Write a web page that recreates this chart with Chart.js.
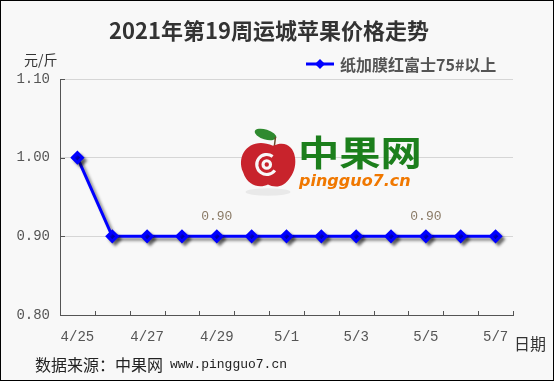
<!DOCTYPE html>
<html>
<head>
<meta charset="utf-8">
<script src="https://cdn.jsdelivr.net/npm/chart.js@4.4.1/dist/chart.umd.min.js"></script>
<style>
  body { margin: 0; }
  #box {
    position: absolute; left: 0; top: 0;
    width: 552px; height: 379px;
    border: 1px solid #000;
    background: #f8f8f8;
  }
  #wrap { position: absolute; left: 0; top: 0; width: 556px; height: 382px; }
</style>
</head>
<body>
<div id="box"></div>
<div id="wrap"><canvas id="chart" width="556" height="382"></canvas></div>
<script>
const dates = ["4/25", "4/26", "4/27", "4/28", "4/29", "4/30", "5/1", "5/2", "5/3", "5/4", "5/5", "5/6", "5/7"];
const prices = [1.00, 0.90, 0.90, 0.90, 0.90, 0.90, 0.90, 0.90, 0.90, 0.90, 0.90, 0.90, 0.90];
const labelledPoints = [4, 10];
const seriesName = "纸加膜红富士75#以上";
const yTicks = [0.80, 0.90, 1.00, 1.10];

const MONO = "'Liberation Mono', 'DejaVu Sans Mono', monospace";
const CJK = "'Noto Sans CJK SC', sans-serif";

// drop shadow under the line and markers
const shadowPlugin = {
  id: "lineShadow",
  beforeDatasetsDraw(chart) {
    const ctx = chart.ctx;
    ctx.save();
    ctx.shadowColor = "rgba(0,0,0,0.45)";
    ctx.shadowBlur = 3;
    ctx.shadowOffsetX = 3;
    ctx.shadowOffsetY = 3;
  },
  afterDatasetsDraw(chart) {
    chart.ctx.restore();
  }
};

function drawApple(ctx, x, y, s) {
  ctx.save();
  ctx.translate(x, y);
  ctx.scale(s, s);
  // soft shadow under the apple
  ctx.fillStyle = "rgba(0,0,0,0.06)";
  ctx.beginPath();
  ctx.ellipse(0, 24, 18, 3, 0, 0, Math.PI * 2);
  ctx.fill();
  // leaf
  ctx.fillStyle = "#2f8a2f";
  ctx.beginPath();
  ctx.ellipse(-2, -22, 9, 4, 0.3, 0, Math.PI * 2);
  ctx.fill();
  ctx.strokeStyle = "#6b4a2a";
  ctx.lineWidth = 1.2;
  ctx.beginPath();
  ctx.moveTo(5, -12);
  ctx.lineTo(6, -20);
  ctx.stroke();
  // body
  ctx.fillStyle = "#c8232c";
  ctx.beginPath();
  ctx.moveTo(4, -13);
  ctx.bezierCurveTo(22, -21, 26, 2, 18, 12);
  ctx.bezierCurveTo(12, 22, 4, 20, 0, 18);
  ctx.bezierCurveTo(-6, 21, -16, 20, -20, 8);
  ctx.bezierCurveTo(-26, -6, -14, -21, 4, -13);
  ctx.fill();
  // swirl
  ctx.strokeStyle = "#f8f8f8";
  ctx.lineWidth = 2.5;
  ctx.beginPath();
  ctx.arc(-1, 2, 8, Math.PI * 0.2, Math.PI * 1.7);
  ctx.stroke();
  ctx.beginPath();
  ctx.arc(-1, 2, 3, 0, Math.PI * 2);
  ctx.stroke();
  ctx.restore();
}

const decorPlugin = {
  id: "decor",
  beforeDatasetsDraw(chart) {
    const ctx = chart.ctx;
    const x = chart.scales.x;
    const y = chart.scales.y;
    const area = chart.chartArea;
    ctx.save();
    // watermark logo
    drawApple(ctx, 268, 162, 1.25);
    ctx.save();
    ctx.fillStyle = "#1c7f1c";
    ctx.font = "bold 35px " + CJK;
    ctx.textBaseline = "middle";
    ctx.textAlign = "left";
    ctx.translate(298, 153);
    ctx.scale(1.18, 1);
    ctx.fillText("中果网", 0, 0);
    ctx.restore();
    ctx.fillStyle = "#f07800";
    ctx.font = "italic bold 16px 'DejaVu Sans', sans-serif";
    ctx.textBaseline = "middle";
    ctx.fillText("pingguo7.cn", 299, 182);

    // inward ticks
    ctx.strokeStyle = "#555";
    ctx.lineWidth = 1;
    ctx.beginPath();
    const step = x.getPixelForValue(1) - x.getPixelForValue(0);
    for (let i = 0; i <= dates.length; i++) {
      const px = Math.round(x.getPixelForValue(0) - step / 2 + i * step) + 0.5;
      ctx.moveTo(px, area.bottom);
      ctx.lineTo(px, area.bottom - 4);
    }
    for (const v of yTicks) {
      const py = Math.round(y.getPixelForValue(v)) + 0.5;
      ctx.moveTo(area.left, py);
      ctx.lineTo(area.left + 5, py);
    }
    ctx.stroke();
    ctx.restore();
  },
  afterDraw(chart) {
    const ctx = chart.ctx;
    const meta = chart.getDatasetMeta(0);
    ctx.save();
    // title
    ctx.fillStyle = "#333";
    ctx.font = "bold 22px " + CJK;
    ctx.textAlign = "center";
    ctx.textBaseline = "middle";
    ctx.fillText("2021年第19周运城苹果价格走势", 269, 31);

    // unit labels
    ctx.font = "14px " + CJK;
    ctx.textAlign = "left";
    ctx.fillStyle = "#333";
    ctx.fillText("元/斤", 24, 60);
    ctx.font = "16px " + CJK;
    ctx.fillText("日期", 514, 344);

    // source
    ctx.font = "16px " + CJK;
    ctx.fillStyle = "#222";
    ctx.fillText("数据来源：中果网", 35, 365);
    ctx.font = "13px " + MONO;
    ctx.fillText("www.pingguo7.cn", 170, 365);

    // legend
    ctx.strokeStyle = "#0000ff";
    ctx.lineWidth = 3;
    ctx.beginPath();
    ctx.moveTo(306, 64);
    ctx.lineTo(334, 64);
    ctx.stroke();
    ctx.fillStyle = "#0000ff";
    ctx.beginPath();
    ctx.moveTo(320, 59);
    ctx.lineTo(325, 64);
    ctx.lineTo(320, 69);
    ctx.lineTo(315, 64);
    ctx.closePath();
    ctx.fill();
    ctx.fillStyle = "#555";
    ctx.font = "bold 16px " + CJK;
    ctx.fillText(seriesName, 340, 65);

    // point labels
    ctx.fillStyle = "#8a7a66";
    ctx.font = "13px " + MONO;
    ctx.textAlign = "center";
    for (const i of labelledPoints) {
      const pt = meta.data[i];
      ctx.fillText(prices[i].toFixed(2), pt.x, pt.y - 20);
    }
    ctx.restore();
  }
};

new Chart(document.getElementById("chart"), {
  type: "line",
  data: {
    labels: dates,
    datasets: [{
      label: seriesName,
      data: prices,
      borderColor: "#0000ff",
      backgroundColor: "#0000ff",
      borderWidth: 3,
      pointStyle: "rectRot",
      pointRadius: 5,
      pointHoverRadius: 5,
      tension: 0
    }]
  },
  options: {
    responsive: false,
    animation: false,
    events: [],
    layout: { padding: { left: 0, right: 43, top: 79, bottom: 37 } },
    plugins: {
      legend: { display: false },
      title: { display: false },
      tooltip: { enabled: false }
    },
    scales: {
      x: {
        offset: true,
        afterFit(scale) { scale.height = 30; },
        grid: { display: false, drawTicks: false },
        border: { color: "#555", width: 1 },
        ticks: {
          autoSkip: false,
          maxRotation: 0,
          padding: 14,
          color: "#555",
          font: { family: MONO, size: 14 },
          callback(value, index) { return index % 2 === 0 ? dates[index] : ""; }
        }
      },
      y: {
        min: 0.8,
        max: 1.1,
        afterFit(scale) { scale.width = 60; },
        afterBuildTicks(scale) { scale.ticks = yTicks.map(v => ({ value: v })); },
        grid: { color: "#d6d6d6", drawTicks: false },
        border: { color: "#555", width: 1 },
        ticks: {
          padding: 10,
          color: "#555",
          font: { family: MONO, size: 14 },
          callback(value) { return value.toFixed(2); }
        }
      }
    }
  },
  plugins: [decorPlugin, shadowPlugin]
});
</script>
</body>
</html>
